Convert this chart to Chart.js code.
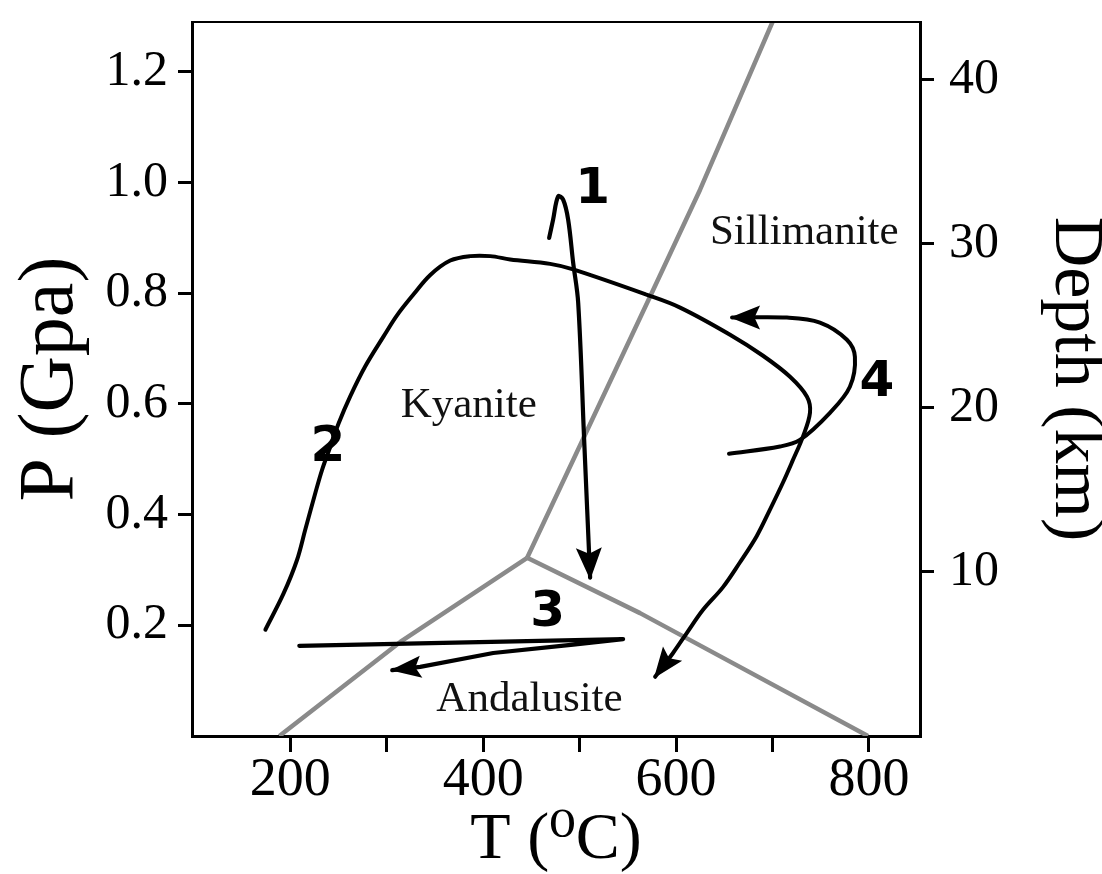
<!DOCTYPE html>
<html>
<head>
<meta charset="utf-8">
<script src="https://cdn.jsdelivr.net/npm/chart.js@4.4.1/dist/chart.umd.min.js"></script>
<style>
  html, body { margin: 0; padding: 0; background: #ffffff; }
  #wrap { width: 1102px; height: 874px; }
</style>
</head>
<body>
<div id="wrap"><canvas id="c" width="1102" height="874"></canvas></div>
<script>
// ---------- data ----------
// axis ticks
const tempTicks = [200, 300, 400, 500, 600, 700, 800];
const tempTickLabels = ['200', '', '400', '', '600', '', '800'];
const pressureTicks = [0.2, 0.4, 0.6, 0.8, 1.0, 1.2];
const pressureTickLabels = ['0.2', '0.4', '0.6', '0.8', '1.0', '1.2'];
const depthTicks = [10, 20, 30, 40];
const depthTickLabels = ['10', '20', '30', '40'];

// phase boundaries (T in °C, P in GPa)
const kyAndT = [188.6, 314.0, 445.6];
const kyAndP = [0, 0.170, 0.322];
const andSilT = [445.6, 562.7, 799];
const andSilP = [0.322, 0.222, 0];
const kySilT = [445.6, 573.1, 624.9, 700];
const kySilP = [0.322, 0.794, 0.987, 1.29];

// P-T paths
const path1T = [468.4, 472.5, 477.7, 482.9, 488.1, 493.3, 498.5, 504.7, 510.9];
const path1P = [0.900, 0.933, 0.975, 0.969, 0.933, 0.855, 0.783, 0.535, 0.286];

const path2T = [174.1, 193.1, 206.9, 215.5, 225.9, 232.9, 241.5, 250.1, 262.2, 277.7, 296.7, 310.6, 327.8, 345.1, 365.8, 386.5, 407.3, 428.0, 469.4, 493.3, 570.0, 604.2, 656.0, 690.2, 718.2, 735.8, 738.9, 731.6, 721.3, 710.9, 697.4, 683.6, 666.0, 648.7, 628.0, 611.1, 596.9, 578.3];
const path2P = [0.192, 0.258, 0.318, 0.373, 0.439, 0.481, 0.523, 0.565, 0.614, 0.668, 0.722, 0.760, 0.798, 0.833, 0.859, 0.867, 0.867, 0.861, 0.853, 0.843, 0.797, 0.774, 0.725, 0.687, 0.649, 0.613, 0.584, 0.541, 0.499, 0.458, 0.409, 0.361, 0.313, 0.269, 0.228, 0.186, 0.150, 0.107];

const path3T = [209.3, 545.1, 493.3, 410.4, 334.7, 305.7];
const path3P = [0.163, 0.175, 0.165, 0.150, 0.125, 0.119];

const path4T = [654.9, 707.8, 728.5, 759.6, 780.3, 785.5, 777.2, 749.2, 715.0, 658.1];
const path4P = [0.510, 0.523, 0.535, 0.584, 0.631, 0.685, 0.716, 0.747, 0.756, 0.756];

// text labels
const regionNames = ['Kyanite', 'Sillimanite', 'Andalusite'];
const regionT = [385, 733, 448];
const regionP = [0.597, 0.910, 0.065];
const pathNames = ['1', '2', '3', '4'];
const pathNameT = [513.5, 238.9, 466.8, 808.3];
const pathNameP = [0.987, 0.520, 0.2215, 0.638];

// ---------- helpers ----------
const zip = (xs, ys) => xs.map((v, i) => ({ x: v, y: ys[i] }));
const SERIF = "'Liberation Serif', 'Times New Roman', 'DejaVu Serif', serif";

function pathDataset(xs, ys, width, tension, arrow) {
  return {
    data: zip(xs, ys), showLine: true, pointRadius: 0, pointHoverRadius: 0,
    borderColor: '#000000', backgroundColor: '#000000', borderWidth: width,
    tension: tension, borderCapStyle: 'round', borderJoinStyle: 'round',
    arrow: arrow, yAxisID: 'y'
  };
}
function boundaryDataset(xs, ys) {
  return {
    data: zip(xs, ys), showLine: true, pointRadius: 0, pointHoverRadius: 0,
    borderColor: '#8a8a8a', borderWidth: 4.5, tension: 0,
    borderCapStyle: 'butt', borderJoinStyle: 'round', yAxisID: 'y'
  };
}

const overlay = {
  id: 'overlay',
  afterDatasetsDraw(chart) {
    const { ctx, chartArea, scales } = chart;
    const sx = scales.x, sy = scales.y;
    ctx.save();
    // top frame line
    ctx.strokeStyle = '#000';
    ctx.lineWidth = 2;
    ctx.beginPath();
    ctx.moveTo(chartArea.left, chartArea.top);
    ctx.lineTo(chartArea.right, chartArea.top);
    ctx.stroke();
    // arrowheads at the end of paths
    chart.data.datasets.forEach((ds, i) => {
      if (!ds.arrow) return;
      const pts = chart.getDatasetMeta(i).data;
      const a = pts[pts.length - 1], b = pts[pts.length - 2];
      const ang = Math.atan2(a.y - b.y, a.x - b.x);
      const L = ds.arrow.len, W = ds.arrow.half;
      const c = Math.cos(ang), s = Math.sin(ang);
      const bx = a.x - L * c, by = a.y - L * s;
      const nx = a.x - L * 0.8 * c, ny = a.y - L * 0.8 * s;
      ctx.fillStyle = '#000';
      ctx.beginPath();
      ctx.moveTo(a.x + 2 * c, a.y + 2 * s);
      ctx.lineTo(bx + W * s, by - W * c);
      ctx.lineTo(nx, ny);
      ctx.lineTo(bx - W * s, by + W * c);
      ctx.closePath();
      ctx.fill();
    });
    // region names
    ctx.fillStyle = '#111';
    ctx.textAlign = 'center';
    ctx.textBaseline = 'middle';
    ctx.font = '43px ' + SERIF;
    regionNames.forEach((t, i) => {
      ctx.fillText(t, sx.getPixelForValue(regionT[i]), sy.getPixelForValue(regionP[i]));
    });
    // path numbers
    ctx.fillStyle = '#000';
    ctx.font = "bold 50px 'DejaVu Sans', 'Noto Sans', sans-serif";
    pathNames.forEach((t, i) => {
      ctx.fillText(t, sx.getPixelForValue(pathNameT[i]), sy.getPixelForValue(pathNameP[i]));
    });
    ctx.restore();
  }
};

const border = { display: true, color: '#000', width: 3 };
const noEdgePadV = (w) => (ax) => { ax.width = w; ax.paddingTop = 0; ax.paddingBottom = 0; };

new Chart(document.getElementById('c'), {
  type: 'scatter',
  data: {
    datasets: [
      pathDataset(path1T, path1P, 4.2, 0.35, { len: 30, half: 13 }),
      pathDataset(path2T, path2P, 4, 0.35, { len: 29, half: 12 }),
      pathDataset(path3T, path3P, 4.2, 0, { len: 29, half: 11 }),
      pathDataset(path4T, path4P, 4, 0.35, { len: 28, half: 12 }),
      boundaryDataset(kyAndT, kyAndP),
      boundaryDataset(andSilT, andSilP),
      boundaryDataset(kySilT, kySilP)
    ]
  },
  options: {
    responsive: false,
    animation: false,
    devicePixelRatio: 1,
    layout: { padding: { top: 22, left: 0, right: 0, bottom: 0 } },
    plugins: { legend: { display: false }, tooltip: { enabled: false } },
    events: [],
    scales: {
      x: {
        type: 'linear', position: 'bottom', min: 98, max: 853,
        afterBuildTicks: (ax) => { ax.ticks = tempTicks.map(v => ({ value: v })); },
        afterFit: (ax) => { ax.height = 138; ax.paddingLeft = 0; ax.paddingRight = 0; },
        border: border,
        grid: { drawOnChartArea: false, drawTicks: true, tickLength: 16, color: '#000', lineWidth: 3 },
        ticks: {
          autoSkip: false, maxRotation: 0, padding: 2, color: '#000',
          font: { family: SERIF, size: 54, lineHeight: 1 },
          callback: (v, i) => tempTickLabels[i]
        },
        title: {
          display: true, text: 'T (\u2070C)', color: '#000',
          font: { family: SERIF, size: 66, lineHeight: 0.8 },
          padding: { top: 0, bottom: 7 }
        }
      },
      y: {
        type: 'linear', position: 'left', min: 0, max: 1.29,
        afterBuildTicks: (ax) => { ax.ticks = pressureTicks.map(v => ({ value: v })); },
        afterFit: noEdgePadV(192),
        border: border,
        grid: { drawOnChartArea: false, drawTicks: true, tickLength: 14, color: '#000', lineWidth: 3 },
        ticks: {
          autoSkip: false, padding: 10, color: '#000',
          font: { family: SERIF, size: 50, lineHeight: 1 },
          callback: (v, i) => pressureTickLabels[i]
        },
        title: {
          display: true, text: 'P (Gpa)', color: '#000',
          font: { family: SERIF, size: 78, lineHeight: 0.8 },
          padding: { top: 20, bottom: 0 }
        }
      },
      y2: {
        type: 'linear', position: 'right', min: 0, max: 43.5,
        afterBuildTicks: (ax) => { ax.ticks = depthTicks.map(v => ({ value: v })); },
        afterFit: noEdgePadV(182),
        border: border,
        grid: { drawOnChartArea: false, drawTicks: true, tickLength: 14, color: '#000', lineWidth: 3 },
        ticks: {
          autoSkip: false, padding: 15, color: '#000',
          font: { family: SERIF, size: 50, lineHeight: 1 },
          callback: (v, i) => depthTickLabels[i]
        },
        title: {
          display: true, text: 'Depth (km)', color: '#000',
          font: { family: SERIF, size: 70, lineHeight: 0.8 },
          padding: { top: 0, bottom: 0 }
        }
      }
    }
  },
  plugins: [overlay]
});
</script>
</body>
</html>
